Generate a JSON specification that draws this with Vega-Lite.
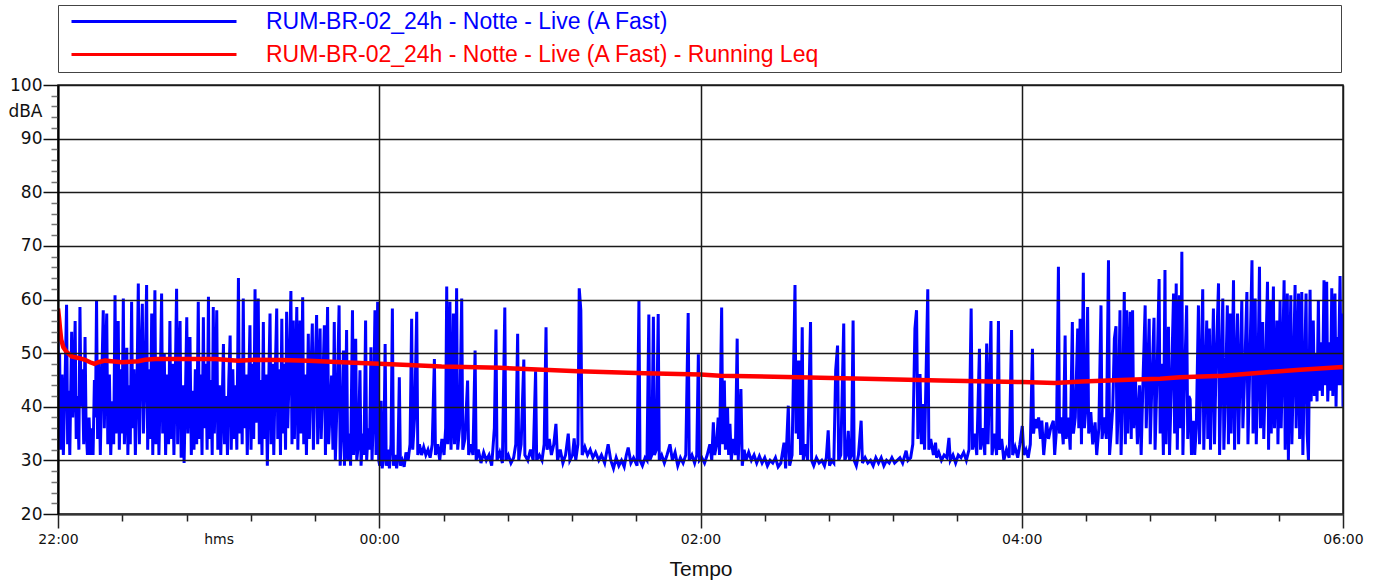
{
  "$schema": "https://vega.github.io/schema/vega-lite/v6.json",
  "width": 1285,
  "height": 429,
  "autosize": {"type": "none"},
  "padding": {"left": 58, "top": 85, "right": 35, "bottom": 70},
  "background": "white",
  "config": {
    "view": {"stroke": "#222", "strokeWidth": 1.5},
    "axis": {"labelOverlap": false, "labelFlush": false, "labelBound": false}
  },
  "datasets": {
    "live": [
      {"t":0,"v":56},{"t":0.3,"v":35},{"t":0.6,"v":50},{"t":1.0,"v":32},{"t":1.5,"v":46},{"t":2.0,"v":31},{"t":2.6,"v":44},{"t":3.2,"v":59},{"t":3.6,"v":33},{"t":4.0,"v":43},{"t":4.4,"v":31},{"t":5.1,"v":54},{"t":5.5,"v":38},{"t":6.0,"v":45},{"t":6.4,"v":56},{"t":6.8,"v":34},{"t":7.3,"v":42},{"t":7.8,"v":32},{"t":8.2,"v":58.6},{"t":8.6,"v":40},{"t":9.1,"v":47},{"t":9.6,"v":33},{"t":10.1,"v":53},{"t":10.5,"v":36},{"t":11.0,"v":31},{"t":11.6,"v":38},{"t":12.1,"v":31},{"t":12.6,"v":36},{"t":13.1,"v":31},{"t":13.6,"v":45},{"t":14.0,"v":38},{"t":14.4,"v":59.9},{"t":14.8,"v":34},{"t":15.3,"v":48},{"t":15.8,"v":31},{"t":16.3,"v":44},{"t":16.9,"v":58},{"t":17.3,"v":36},{"t":17.8,"v":50},{"t":18.2,"v":57.4},{"t":18.6,"v":33},{"t":19.2,"v":46},{"t":19.7,"v":31},{"t":20.3,"v":41},{"t":20.8,"v":33},{"t":21.3,"v":60.8},{"t":21.7,"v":35},{"t":22.1,"v":45},{"t":22.5,"v":56},{"t":22.9,"v":32},{"t":23.5,"v":47},{"t":23.9,"v":35},{"t":24.4,"v":60.2},{"t":24.8,"v":33},{"t":25.3,"v":42},{"t":25.7,"v":51},{"t":26.1,"v":31},{"t":26.6,"v":44},{"t":27.0,"v":33},{"t":27.5,"v":59.6},{"t":27.9,"v":36},{"t":28.4,"v":47},{"t":28.9,"v":31},{"t":29.5,"v":44},{"t":30.0,"v":63},{"t":30.4,"v":33},{"t":30.9,"v":48},{"t":31.5,"v":59.2},{"t":31.9,"v":35},{"t":32.5,"v":45},{"t":33.1,"v":62.7},{"t":33.5,"v":32},{"t":34.0,"v":47},{"t":34.5,"v":34},{"t":35.0,"v":57.4},{"t":35.4,"v":31},{"t":35.8,"v":45},{"t":36.2,"v":61.7},{"t":36.6,"v":33},{"t":37.2,"v":49},{"t":37.7,"v":31},{"t":38.2,"v":44},{"t":38.7,"v":61.1},{"t":39.1,"v":35},{"t":39.7,"v":50},{"t":40.2,"v":31},{"t":40.8,"v":46},{"t":41.3,"v":33},{"t":41.8,"v":56},{"t":42.2,"v":34},{"t":42.8,"v":48},{"t":43.3,"v":31},{"t":43.8,"v":45},{"t":44.3,"v":62},{"t":44.7,"v":33},{"t":45.1,"v":46},{"t":45.6,"v":56},{"t":46.0,"v":30.5},{"t":46.6,"v":44},{"t":47.1,"v":29.5},{"t":47.6,"v":42},{"t":48.1,"v":56.7},{"t":48.5,"v":35},{"t":49.0,"v":45},{"t":49.3,"v":53},{"t":49.8,"v":31},{"t":50.3,"v":43},{"t":50.8,"v":32},{"t":51.3,"v":47},{"t":51.8,"v":33},{"t":52.4,"v":59.6},{"t":52.8,"v":34},{"t":53.3,"v":46},{"t":53.8,"v":31},{"t":54.3,"v":56.7},{"t":54.7,"v":36},{"t":55.2,"v":48},{"t":55.7,"v":32},{"t":56.2,"v":60.5},{"t":56.6,"v":34},{"t":57.1,"v":45},{"t":57.6,"v":31},{"t":58.0,"v":58.6},{"t":58.4,"v":35},{"t":58.9,"v":46},{"t":59.3,"v":58},{"t":59.7,"v":32},{"t":60.3,"v":44},{"t":60.8,"v":31},{"t":61.3,"v":40},{"t":61.8,"v":51.7},{"t":62.2,"v":33},{"t":62.8,"v":42},{"t":63.3,"v":31},{"t":63.8,"v":45},{"t":64.3,"v":53.3},{"t":64.7,"v":32},{"t":65.3,"v":47},{"t":65.8,"v":34},{"t":66.3,"v":44},{"t":66.8,"v":32},{"t":67.4,"v":64},{"t":67.8,"v":35},{"t":68.3,"v":49},{"t":68.8,"v":33},{"t":69.2,"v":60.2},{"t":69.6,"v":36},{"t":70.2,"v":46},{"t":70.7,"v":31},{"t":71.2,"v":43},{"t":71.7,"v":55.2},{"t":72.1,"v":32},{"t":72.6,"v":48},{"t":73.1,"v":34},{"t":73.6,"v":61.9},{"t":74.0,"v":37},{"t":74.4,"v":50},{"t":74.8,"v":60.2},{"t":75.2,"v":33},{"t":75.7,"v":45},{"t":76.2,"v":31},{"t":76.7,"v":55.8},{"t":77.1,"v":34},{"t":77.7,"v":46},{"t":78.2,"v":29},{"t":78.7,"v":44},{"t":79.2,"v":57.4},{"t":79.6,"v":33},{"t":80.1,"v":48},{"t":80.6,"v":31},{"t":81.1,"v":45},{"t":81.7,"v":58.3},{"t":82.1,"v":34},{"t":82.7,"v":47},{"t":83.1,"v":31},{"t":83.6,"v":56.4},{"t":84.0,"v":35},{"t":84.5,"v":48},{"t":85.0,"v":32},{"t":85.4,"v":57.7},{"t":85.8,"v":36},{"t":86.3,"v":45},{"t":87.0,"v":61.6},{"t":87.4,"v":33},{"t":87.9,"v":56.1},{"t":88.3,"v":34},{"t":88.8,"v":47},{"t":89.2,"v":58.6},{"t":89.6,"v":32},{"t":90.0,"v":45},{"t":90.4,"v":56.1},{"t":90.8,"v":35},{"t":91.4,"v":60.4},{"t":91.8,"v":33},{"t":92.3,"v":46},{"t":92.8,"v":31},{"t":93.5,"v":53.6},{"t":93.9,"v":34},{"t":94.4,"v":45},{"t":95.0,"v":55.5},{"t":95.4,"v":32},{"t":96.0,"v":46},{"t":96.6,"v":57.1},{"t":97.0,"v":33},{"t":97.5,"v":45},{"t":97.9,"v":54.6},{"t":98.3,"v":34},{"t":98.9,"v":44},{"t":99.5,"v":55.2},{"t":99.9,"v":31},{"t":100.3,"v":46},{"t":100.7,"v":58.6},{"t":101.1,"v":33},{"t":101.7,"v":40},{"t":102.2,"v":45.8},{"t":102.7,"v":32},{"t":103.2,"v":55.8},{"t":103.6,"v":30},{"t":104.3,"v":42},{"t":105.0,"v":58.9},{"t":105.4,"v":29},{"t":106.0,"v":36},{"t":106.6,"v":50.5},{"t":107.0,"v":29},{"t":107.4,"v":38},{"t":107.8,"v":54.3},{"t":108.2,"v":30},{"t":108.8,"v":35},{"t":109.3,"v":29},{"t":110.0,"v":58},{"t":110.4,"v":31},{"t":110.8,"v":38},{"t":111.2,"v":52.7},{"t":111.6,"v":30},{"t":112.2,"v":33},{"t":112.8,"v":46.8},{"t":113.2,"v":29},{"t":113.8,"v":35},{"t":114.3,"v":31},{"t":114.9,"v":56.1},{"t":115.3,"v":30},{"t":115.9,"v":36},{"t":116.4,"v":32},{"t":116.9,"v":51.1},{"t":117.3,"v":30},{"t":117.8,"v":38},{"t":118.4,"v":58},{"t":118.8,"v":31},{"t":119.4,"v":59.6},{"t":119.8,"v":30},{"t":120.2,"v":29},{"t":120.7,"v":41.1},{"t":121.1,"v":28.5},{"t":121.7,"v":31},{"t":122.2,"v":51.7},{"t":122.6,"v":29},{"t":123.2,"v":32},{"t":123.8,"v":28.5},{"t":124.4,"v":33},{"t":124.9,"v":58.3},{"t":125.3,"v":29},{"t":125.9,"v":31},{"t":126.5,"v":28.5},{"t":127.0,"v":31},{"t":127.5,"v":45.5},{"t":127.9,"v":29},{"t":128.6,"v":30},{"t":129.3,"v":28.8},{"t":130.0,"v":31.5},{"t":130.8,"v":30},{"t":131.5,"v":33},{"t":132.1,"v":56.4},{"t":132.5,"v":32},{"t":133.2,"v":38},{"t":134.0,"v":57.7},{"t":134.4,"v":31},{"t":135.0,"v":33},{"t":135.8,"v":31},{"t":136.6,"v":32.5},{"t":137.4,"v":31},{"t":138.2,"v":32},{"t":139.0,"v":30.5},{"t":139.8,"v":33},{"t":140.6,"v":48.9},{"t":141.0,"v":31},{"t":141.8,"v":33},{"t":142.6,"v":30},{"t":143.4,"v":34},{"t":144.2,"v":31},{"t":144.8,"v":36},{"t":145.2,"v":62.4},{"t":145.6,"v":33},{"t":146.0,"v":40},{"t":146.4,"v":59.6},{"t":146.8,"v":32},{"t":147.2,"v":38},{"t":147.7,"v":57.4},{"t":148.1,"v":33},{"t":148.5,"v":40},{"t":148.9,"v":62.1},{"t":149.3,"v":32},{"t":150.0,"v":36},{"t":150.8,"v":60.2},{"t":151.2,"v":32},{"t":152.0,"v":34},{"t":153.0,"v":44.9},{"t":153.4,"v":31},{"t":154.2,"v":33},{"t":155.0,"v":31},{"t":155.8,"v":50.5},{"t":156.2,"v":30},{"t":157.0,"v":32},{"t":158.0,"v":29.5},{"t":159.0,"v":31.5},{"t":160.0,"v":30},{"t":161.0,"v":31},{"t":162.0,"v":29},{"t":163.0,"v":36},{"t":163.6,"v":54.4},{"t":164.0,"v":30},{"t":165.0,"v":31.5},{"t":166.0,"v":29.5},{"t":166.9,"v":58.5},{"t":167.3,"v":30},{"t":168.2,"v":31},{"t":169.2,"v":29.5},{"t":170.2,"v":30.5},{"t":171.0,"v":33},{"t":171.7,"v":53.6},{"t":172.1,"v":30},{"t":173.0,"v":33},{"t":174.0,"v":48.8},{"t":174.4,"v":31},{"t":175.5,"v":30},{"t":176.5,"v":32},{"t":177.5,"v":30},{"t":178.4,"v":46.6},{"t":178.8,"v":30},{"t":179.8,"v":31},{"t":180.8,"v":30},{"t":181.6,"v":33},{"t":182.3,"v":54.8},{"t":182.7,"v":32},{"t":183.5,"v":34},{"t":184.3,"v":31},{"t":185.2,"v":33},{"t":186.0,"v":36.8},{"t":186.6,"v":30},{"t":187.6,"v":32},{"t":188.6,"v":29.5},{"t":189.6,"v":31},{"t":190.6,"v":35},{"t":191.2,"v":30},{"t":192.2,"v":31},{"t":192.8,"v":34.1},{"t":193.4,"v":30},{"t":194.2,"v":33},{"t":194.7,"v":62.1},{"t":195.3,"v":58},{"t":195.8,"v":31},{"t":196.8,"v":32.5},{"t":197.8,"v":31},{"t":198.8,"v":32},{"t":199.8,"v":30.5},{"t":200.8,"v":31.5},{"t":202.0,"v":30},{"t":203.0,"v":31},{"t":204.2,"v":29.5},{"t":205.5,"v":33},{"t":206.5,"v":30},{"t":207.5,"v":28.5},{"t":208.5,"v":30.5},{"t":209.5,"v":29},{"t":210.5,"v":30},{"t":211.5,"v":28.8},{"t":212.3,"v":31},{"t":213.0,"v":32.4},{"t":214.0,"v":29.5},{"t":215.0,"v":30.5},{"t":216.3,"v":29},{"t":217.0,"v":59.8},{"t":217.4,"v":30},{"t":218.3,"v":29},{"t":219.3,"v":30.5},{"t":220.0,"v":30},{"t":220.7,"v":57.2},{"t":221.1,"v":30},{"t":221.8,"v":31},{"t":222.4,"v":56.8},{"t":222.8,"v":31},{"t":223.5,"v":32},{"t":224.2,"v":57.3},{"t":224.6,"v":30},{"t":225.5,"v":31},{"t":226.5,"v":29.5},{"t":227.5,"v":31},{"t":228.6,"v":33},{"t":229.5,"v":30},{"t":230.5,"v":31.5},{"t":231.5,"v":29},{"t":232.5,"v":30.5},{"t":233.5,"v":29.5},{"t":234.5,"v":31},{"t":235.4,"v":57.5},{"t":235.8,"v":30},{"t":236.8,"v":31},{"t":237.8,"v":29.5},{"t":238.6,"v":31},{"t":239.2,"v":49.8},{"t":239.6,"v":30},{"t":240.5,"v":30.5},{"t":241.5,"v":29.5},{"t":242.5,"v":31},{"t":243.5,"v":33},{"t":244.2,"v":30},{"t":244.8,"v":37.1},{"t":245.3,"v":31},{"t":246.0,"v":33},{"t":246.6,"v":38},{"t":247.1,"v":31},{"t":247.9,"v":58.5},{"t":248.3,"v":33},{"t":248.9,"v":44.9},{"t":249.3,"v":32},{"t":250.1,"v":39.9},{"t":250.5,"v":31},{"t":251.0,"v":36.8},{"t":251.5,"v":30},{"t":252.2,"v":34},{"t":253.0,"v":31},{"t":253.7,"v":52.7},{"t":254.1,"v":30},{"t":255.1,"v":43.3},{"t":255.6,"v":29},{"t":256.3,"v":32},{"t":257.0,"v":30},{"t":258.0,"v":31.5},{"t":259.0,"v":30},{"t":260.0,"v":31},{"t":261.0,"v":29.5},{"t":262.0,"v":30.8},{"t":263.0,"v":29.5},{"t":264.0,"v":30.5},{"t":265.0,"v":29},{"t":266.0,"v":30},{"t":267.0,"v":29.5},{"t":268.0,"v":30.5},{"t":269.0,"v":28.8},{"t":270.0,"v":29.5},{"t":271.2,"v":33.3},{"t":271.8,"v":28.5},{"t":272.8,"v":40.2},{"t":273.3,"v":29},{"t":274.2,"v":31},{"t":275.3,"v":62.7},{"t":275.7,"v":35},{"t":276.2,"v":48.6},{"t":276.6,"v":34},{"t":276.9,"v":48.6},{"t":277.4,"v":31},{"t":278.0,"v":54.8},{"t":278.4,"v":30},{"t":279.2,"v":33},{"t":280.0,"v":30},{"t":281.1,"v":55.8},{"t":281.5,"v":30},{"t":282.3,"v":29},{"t":283.3,"v":30.5},{"t":284.3,"v":29.5},{"t":285.3,"v":30},{"t":286.3,"v":29},{"t":287.0,"v":30.5},{"t":287.7,"v":35.6},{"t":288.2,"v":29},{"t":289.0,"v":30},{"t":289.8,"v":29.5},{"t":290.5,"v":46.8},{"t":291.2,"v":51.4},{"t":291.6,"v":30},{"t":292.4,"v":31},{"t":293.5,"v":55.5},{"t":293.9,"v":30},{"t":294.6,"v":31},{"t":295.2,"v":35.5},{"t":295.7,"v":30},{"t":296.4,"v":31},{"t":297.0,"v":56.1},{"t":297.4,"v":30},{"t":298.2,"v":29},{"t":299.0,"v":31},{"t":300.0,"v":37.4},{"t":300.5,"v":29.5},{"t":301.5,"v":30.5},{"t":302.5,"v":29.5},{"t":303.5,"v":30},{"t":304.5,"v":29},{"t":305.5,"v":30.5},{"t":306.5,"v":29.5},{"t":307.5,"v":30.5},{"t":308.5,"v":29},{"t":309.5,"v":30},{"t":310.5,"v":29.5},{"t":311.5,"v":30.5},{"t":312.5,"v":29.5},{"t":313.5,"v":30},{"t":314.5,"v":30.5},{"t":315.5,"v":29.5},{"t":316.8,"v":31.8},{"t":317.5,"v":30},{"t":318.5,"v":30.5},{"t":319.3,"v":33},{"t":320.1,"v":54.6},{"t":320.7,"v":58},{"t":321.2,"v":34},{"t":322.0,"v":46.1},{"t":322.5,"v":33},{"t":323.2,"v":40.5},{"t":323.7,"v":32},{"t":324.9,"v":61.9},{"t":325.3,"v":32},{"t":326.0,"v":34},{"t":327.0,"v":31},{"t":327.8,"v":33.3},{"t":328.2,"v":30.5},{"t":329.0,"v":31.5},{"t":330.0,"v":30},{"t":331.0,"v":31},{"t":332.0,"v":30.5},{"t":332.8,"v":34.2},{"t":333.3,"v":30},{"t":334.3,"v":31},{"t":335.3,"v":29.5},{"t":336.3,"v":31},{"t":337.3,"v":30.5},{"t":338.3,"v":31.5},{"t":339.3,"v":30},{"t":340.3,"v":32},{"t":341.1,"v":58.3},{"t":341.6,"v":32},{"t":342.4,"v":35},{"t":343.2,"v":31},{"t":344.2,"v":50.8},{"t":344.6,"v":32},{"t":345.4,"v":36},{"t":346.2,"v":31},{"t":346.9,"v":51.8},{"t":347.4,"v":33},{"t":348.5,"v":56},{"t":348.9,"v":31},{"t":349.8,"v":35},{"t":350.6,"v":31},{"t":351.3,"v":56},{"t":351.7,"v":32},{"t":352.5,"v":34},{"t":353.3,"v":30},{"t":354.3,"v":32},{"t":355.3,"v":30.5},{"t":356.2,"v":54.3},{"t":356.6,"v":31},{"t":357.5,"v":32.5},{"t":358.5,"v":30.5},{"t":359.3,"v":33},{"t":360.2,"v":36.4},{"t":360.8,"v":31},{"t":361.6,"v":32},{"t":362.4,"v":30.5},{"t":363.2,"v":33},{"t":364.0,"v":50.8},{"t":364.4,"v":35},{"t":365.0,"v":37.7},{"t":365.6,"v":36},{"t":366.3,"v":38},{"t":367.0,"v":34},{"t":367.5,"v":37.4},{"t":368.2,"v":31},{"t":369.3,"v":37.1},{"t":370.0,"v":34},{"t":370.8,"v":36},{"t":371.8,"v":37.4},{"t":372.3,"v":31},{"t":373.0,"v":36},{"t":373.7,"v":66.1},{"t":374.1,"v":35},{"t":374.8,"v":38},{"t":375.5,"v":33},{"t":376.2,"v":53.3},{"t":376.6,"v":34},{"t":377.4,"v":38},{"t":378.1,"v":32},{"t":378.9,"v":55.8},{"t":379.3,"v":35},{"t":380.0,"v":38},{"t":380.9,"v":54.6},{"t":381.3,"v":36},{"t":381.8,"v":56.4},{"t":382.3,"v":33},{"t":383.0,"v":65},{"t":383.4,"v":36},{"t":384.0,"v":40},{"t":384.6,"v":58.6},{"t":385.0,"v":35},{"t":385.8,"v":39},{"t":386.5,"v":33},{"t":387.4,"v":37.1},{"t":388.0,"v":31},{"t":388.8,"v":36},{"t":389.6,"v":58.9},{"t":390.0,"v":34},{"t":390.8,"v":38},{"t":391.6,"v":34},{"t":392.4,"v":67.3},{"t":392.8,"v":31},{"t":393.5,"v":36},{"t":394.0,"v":40},{"t":394.6,"v":52.7},{"t":395.2,"v":55},{"t":395.6,"v":33},{"t":396.2,"v":42},{"t":396.7,"v":58},{"t":397.1,"v":31},{"t":397.8,"v":45},{"t":398.3,"v":61.4},{"t":398.7,"v":33},{"t":399.2,"v":58},{"t":399.6,"v":35},{"t":400.5,"v":57.7},{"t":400.9,"v":34},{"t":401.4,"v":58},{"t":401.8,"v":36},{"t":402.5,"v":45},{"t":403.2,"v":33},{"t":404.0,"v":44},{"t":404.6,"v":31},{"t":405.3,"v":45},{"t":406.1,"v":58.9},{"t":406.5,"v":36},{"t":407.0,"v":45},{"t":407.6,"v":56.4},{"t":408.0,"v":33},{"t":408.6,"v":44},{"t":409.4,"v":56.6},{"t":409.8,"v":32},{"t":410.5,"v":45},{"t":411.3,"v":63.8},{"t":411.7,"v":35},{"t":412.3,"v":48},{"t":412.9,"v":31},{"t":413.5,"v":65.5},{"t":413.9,"v":33},{"t":414.4,"v":47},{"t":414.8,"v":54.9},{"t":415.2,"v":31},{"t":416.0,"v":46},{"t":416.7,"v":61.1},{"t":417.1,"v":35},{"t":417.7,"v":63},{"t":418.1,"v":32},{"t":418.5,"v":46},{"t":418.9,"v":60.8},{"t":419.3,"v":36},{"t":419.8,"v":68.9},{"t":420.2,"v":31},{"t":420.8,"v":45},{"t":421.6,"v":58.9},{"t":422.0,"v":34},{"t":422.4,"v":42},{"t":422.9,"v":41.4},{"t":423.4,"v":31},{"t":424.1,"v":37.4},{"t":424.6,"v":31},{"t":425.2,"v":36},{"t":426.0,"v":58.9},{"t":426.4,"v":33},{"t":427.0,"v":47},{"t":427.6,"v":61.9},{"t":428.0,"v":32},{"t":428.6,"v":46},{"t":429.1,"v":56.1},{"t":429.5,"v":34},{"t":430.1,"v":54.6},{"t":430.5,"v":32},{"t":431.0,"v":45},{"t":431.6,"v":58.3},{"t":432.0,"v":33},{"t":432.6,"v":48},{"t":433.5,"v":63},{"t":433.9,"v":31},{"t":434.5,"v":47},{"t":435.1,"v":60.2},{"t":435.5,"v":32},{"t":436.2,"v":45},{"t":436.8,"v":58.9},{"t":437.2,"v":33},{"t":437.8,"v":57.4},{"t":438.2,"v":35},{"t":438.6,"v":47},{"t":439.1,"v":63.6},{"t":439.5,"v":32},{"t":440.0,"v":46},{"t":440.6,"v":57.4},{"t":441.0,"v":33},{"t":441.6,"v":47},{"t":442.2,"v":59.9},{"t":442.6,"v":36},{"t":443.2,"v":45},{"t":444.1,"v":61.4},{"t":444.5,"v":33},{"t":445.2,"v":48},{"t":446.0,"v":67.3},{"t":446.4,"v":35},{"t":446.8,"v":47},{"t":447.2,"v":60.2},{"t":447.6,"v":33},{"t":448.2,"v":45},{"t":448.8,"v":66.1},{"t":449.2,"v":36},{"t":449.6,"v":47},{"t":450.0,"v":55.8},{"t":450.4,"v":34},{"t":451.0,"v":46},{"t":451.8,"v":63.3},{"t":452.2,"v":32},{"t":452.8,"v":59.9},{"t":453.2,"v":35},{"t":454.0,"v":62.4},{"t":454.4,"v":36},{"t":454.9,"v":46},{"t":455.3,"v":56.1},{"t":455.7,"v":33},{"t":456.5,"v":59.9},{"t":456.9,"v":36},{"t":457.4,"v":48},{"t":458.0,"v":63.6},{"t":458.4,"v":32},{"t":459.2,"v":61.1},{"t":459.6,"v":30},{"t":460.0,"v":45},{"t":460.5,"v":60.8},{"t":460.9,"v":33},{"t":461.5,"v":47},{"t":462.1,"v":62.7},{"t":462.5,"v":36},{"t":463.0,"v":48},{"t":463.4,"v":61.1},{"t":463.8,"v":34},{"t":464.2,"v":47},{"t":464.6,"v":61.4},{"t":465.0,"v":31},{"t":465.6,"v":46},{"t":466.2,"v":61.1},{"t":466.6,"v":35},{"t":467.1,"v":30},{"t":467.7,"v":61.8},{"t":468.1,"v":41},{"t":468.5,"v":52},{"t":468.9,"v":56.1},{"t":469.3,"v":42},{"t":469.9,"v":50},{"t":470.3,"v":41},{"t":470.8,"v":59.9},{"t":471.2,"v":43},{"t":471.8,"v":52},{"t":472.3,"v":42},{"t":472.9,"v":63.6},{"t":473.3,"v":44},{"t":473.9,"v":63.3},{"t":474.3,"v":41},{"t":475.0,"v":52},{"t":475.4,"v":43},{"t":475.8,"v":62.1},{"t":476.2,"v":42},{"t":476.6,"v":55},{"t":477.0,"v":61.1},{"t":477.4,"v":40},{"t":477.8,"v":53},{"t":478.2,"v":44},{"t":478.9,"v":64.4},{"t":479.3,"v":44},{"t":479.8,"v":57.4},{"t":480,"v":40}
    ],
    "leq": [
      {"t":0,"v":58.3},{"t":0.4,"v":56.5},{"t":0.75,"v":54.6},{"t":1.2,"v":52.5},{"t":2,"v":51.1},{"t":3.2,"v":50.2},{"t":5.1,"v":49.4},{"t":7.6,"v":49.1},{"t":10.1,"v":48.75},{"t":12,"v":48.3},{"t":13.6,"v":48.0},{"t":15.1,"v":48.3},{"t":17.6,"v":48.6},{"t":20,"v":48.5},{"t":23.8,"v":48.3},{"t":27,"v":48.4},{"t":30,"v":48.5},{"t":32.5,"v":48.75},{"t":36.2,"v":48.9},{"t":48.7,"v":48.9},{"t":58.7,"v":48.9},{"t":67.4,"v":48.6},{"t":73.6,"v":48.75},{"t":82.9,"v":48.7},{"t":93.5,"v":48.6},{"t":106,"v":48.3},{"t":120,"v":48.0},{"t":130.9,"v":47.8},{"t":143.3,"v":47.5},{"t":165,"v":47.25},{"t":194.3,"v":46.6},{"t":219.2,"v":46.25},{"t":240,"v":46.0},{"t":247.3,"v":45.8},{"t":276.5,"v":45.5},{"t":301.4,"v":45.2},{"t":329.5,"v":44.9},{"t":360.2,"v":44.6},{"t":372.4,"v":44.45},{"t":382.4,"v":44.7},{"t":392.4,"v":44.9},{"t":402.3,"v":45.1},{"t":411.7,"v":45.2},{"t":419.1,"v":45.5},{"t":435.3,"v":45.8},{"t":450.3,"v":46.4},{"t":464,"v":46.9},{"t":480,"v":47.4}
    ]
  },
  "encoding": {
    "x": {
      "field": "t", "type": "quantitative",
      "scale": {"domain": [0, 480], "nice": false, "zero": false},
      "axis": {
        "values": [0,24,48,60,72,96,120,144,168,192,216,240,264,288,312,336,360,384,408,432,456,480],
        "labelExpr": "datum.value === 60 ? 'hms' : (datum.value % 120 === 0 ? ['22:00','00:00','02:00','04:00','06:00'][datum.value / 120] : '')",
        "tickSize": {"condition": {"test": "datum.value % 120 === 0 || datum.value === 60", "value": 14}, "value": 7},
        "tickOpacity": {"condition": {"test": "datum.value === 60", "value": 0}, "value": 1},
        "tickColor": "#222", "tickWidth": 1.5,
        "grid": true,
        "gridOpacity": {"condition": {"test": "datum.value % 120 === 0", "value": 1}, "value": 0},
        "gridColor": "#1a1a1a", "gridWidth": 1.5,
        "domainColor": "#333", "domainWidth": 2,
        "labelFont": "DejaVu Sans", "labelFontSize": 14, "labelColor": "#111", "labelPadding": 4,
        "title": "Tempo", "titleFont": "Liberation Sans", "titleFontSize": 21, "titleFontWeight": "normal", "titleColor": "#111", "titlePadding": 12,
        "zindex": 1
      }
    },
    "y": {
      "field": "v", "type": "quantitative",
      "scale": {"domain": [20, 100], "nice": false, "zero": false},
      "axis": {
        "values": [20,22,24,26,28,30,32,34,36,38,40,42,44,46,48,50,52,54,56,58,60,62,64,66,68,70,72,74,76,78,80,82,84,86,88,90,92,94,95,96,98,100],
        "labelExpr": "datum.value === 95 ? 'dBA' : (datum.value % 10 === 0 ? datum.label : '')",
        "tickSize": {"condition": {"test": "datum.value % 10 === 0 || datum.value === 95", "value": 15}, "value": 7},
        "tickOpacity": {"condition": {"test": "datum.value === 95", "value": 0}, "value": 1},
        "tickColor": {"condition": {"test": "datum.value % 10 === 0", "value": "#111"}, "value": "#777"},
        "tickWidth": 1.5,
        "grid": true,
        "gridOpacity": {"condition": {"test": "datum.value % 10 === 0", "value": 1}, "value": 0},
        "gridColor": "#1a1a1a", "gridWidth": 1.5,
        "domainColor": "#000", "domainWidth": 2,
        "labelFont": "DejaVu Sans", "labelFontSize": 17, "labelColor": "#111", "labelPadding": 1,
        "title": null,
        "zindex": 1
      }
    }
  },
  "layer": [
    {
      "data": {"name": "live"},
      "mark": {"type": "line", "strokeWidth": 3, "clip": true, "interpolate": "linear"},
      "encoding": {
        "color": {
          "datum": "RUM-BR-02_24h - Notte - Live (A Fast)",
          "type": "nominal",
          "scale": {
            "domain": ["RUM-BR-02_24h - Notte - Live (A Fast)", "RUM-BR-02_24h - Notte - Live (A Fast) - Running Leq"],
            "range": ["#0000FF", "#FF0000"]
          },
          "legend": {
            "orient": "none", "legendX": 0, "legendY": -80,
            "direction": "vertical", "title": null,
            "strokeColor": "#444", "padding": 5,
            "symbolType": "M0,0H16.5M125.8,0", "symbolSize": 400, "symbolStrokeWidth": 3,
            "symbolOffset": -3, "labelOffset": 183, "rowPadding": 9,
            "labelFont": "Liberation Sans", "labelFontSize": 23, "labelLimit": 0,
            "labelColor": {"expr": "indexof(datum.label, 'Running') >= 0 ? '#FF0000' : '#0000FF'"}
          }
        }
      }
    },
    {
      "data": {"name": "leq"},
      "mark": {"type": "line", "strokeWidth": 4.5, "clip": true},
      "encoding": {
        "color": {"datum": "RUM-BR-02_24h - Notte - Live (A Fast) - Running Leq", "type": "nominal"}
      }
    }
  ]
}
